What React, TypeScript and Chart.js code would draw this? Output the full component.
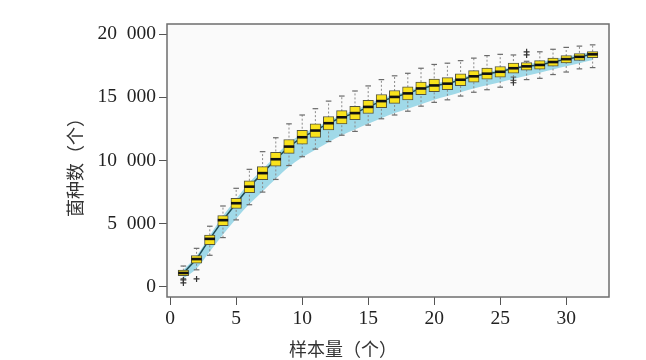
import { useEffect, useRef } from 'react';
import { Chart, registerables } from 'chart.js';

Chart.register(...registerables);

// ---- data ----
const sampleSizes = [1, 2, 3, 4, 5, 6, 7, 8, 9, 10, 11, 12, 13, 14, 15, 16, 17, 18, 19, 20, 21, 22, 23, 24, 25, 26, 27, 28, 29, 30, 31, 32];
const medians = [1100, 2200, 3800, 5280, 6620, 7930, 9000, 10100, 11100, 11840, 12370, 12950, 13420, 13750, 14240, 14700, 15030, 15310, 15700, 15940, 16080, 16390, 16660, 16870, 17020, 17300, 17450, 17560, 17790, 18020, 18200, 18400];
const lowerQuartiles = [880, 1880, 3350, 4850, 6200, 7450, 8480, 9560, 10560, 11300, 11830, 12420, 12900, 13230, 13720, 14180, 14520, 14800, 15200, 15440, 15600, 15920, 16200, 16430, 16600, 16900, 17150, 17220, 17460, 17720, 17920, 18130];
const upperQuartiles = [1330, 2480, 4100, 5650, 7000, 8400, 9520, 10640, 11660, 12380, 12900, 13480, 13950, 14280, 14760, 15220, 15540, 15820, 16200, 16440, 16560, 16860, 17110, 17310, 17440, 17700, 17750, 17900, 18100, 18300, 18450, 18610];
const lowerWhiskers = [650, 1350, 2500, 3900, 5300, 6500, 7500, 8500, 9600, 10300, 10900, 11500, 12000, 12300, 12800, 13300, 13600, 13900, 14300, 14600, 14800, 15100, 15400, 15600, 15800, 16600, 16400, 16500, 16800, 17000, 17250, 17350];
const upperWhiskers = [1650, 3050, 4800, 6400, 7800, 9300, 10700, 11800, 12900, 13600, 14100, 14700, 15100, 15500, 15900, 16400, 16700, 16900, 17300, 17600, 17700, 17900, 18100, 18300, 18400, 18350, 17850, 18600, 18800, 18950, 19050, 19150];
const outlierSamples = [1, 1, 2, 26, 26, 27, 27];
const outlierValues = [550, 310, 630, 16350, 16150, 18350, 18600];
const bandLower = [650, 1450, 2800, 4150, 5400, 6550, 7550, 8550, 9500, 10250, 10850, 11450, 12000, 12450, 12900, 13350, 13750, 14100, 14450, 14800, 15100, 15400, 15700, 15950, 16200, 16450, 16700, 16950, 17200, 17450, 17700, 17950];
const bandUpper = [1350, 2450, 4050, 5600, 6950, 8250, 9300, 10400, 11400, 12100, 12600, 13150, 13600, 14000, 14450, 14900, 15200, 15500, 15850, 16100, 16300, 16550, 16800, 17000, 17200, 17400, 17600, 17800, 18000, 18200, 18400, 18600];
const xTickValues = [0, 5, 10, 15, 20, 25, 30];
const yTickValues = [0, 5000, 10000, 15000, 20000];
const xAxisTitle = '样本量（个）';
const yAxisTitle = '菌种数（个）';

const formatThousands = (v: number) => String(v).replace(/\B(?=(\d{3})+(?!\d))/g, '\u2002');

const framePlugin = {
  id: 'frameAndTitles',
  beforeDraw(chart: any) {
    const { ctx, chartArea } = chart;
    ctx.save();
    ctx.fillStyle = '#ffffff';
    ctx.fillRect(0, 0, chart.width, chart.height);
    ctx.fillStyle = '#fafafa';
    ctx.fillRect(chartArea.left, chartArea.top, chartArea.right - chartArea.left, chartArea.bottom - chartArea.top);
    ctx.restore();
  },
  afterDatasetsDraw(chart: any) {
    const { ctx, chartArea } = chart;
    ctx.save();
    ctx.strokeStyle = '#6e6e6e';
    ctx.lineWidth = 1.5;
    ctx.strokeRect(chartArea.left, chartArea.top, chartArea.right - chartArea.left, chartArea.bottom - chartArea.top);
    ctx.restore();
  },
  afterDraw(chart: any) {
    const { ctx } = chart;
    ctx.save();
    ctx.fillStyle = '#333333';
    ctx.font = '18px "Noto Sans CJK SC", sans-serif';
    ctx.textAlign = 'center';
    ctx.textBaseline = 'middle';
    ctx.fillText(xAxisTitle, 343, 349);
    ctx.translate(75, 163);
    ctx.rotate(-Math.PI / 2);
    ctx.fillText(yAxisTitle, 0, 0);
    ctx.restore();
  },
};

export default function App() {
  const canvasRef = useRef<HTMLCanvasElement | null>(null);

  useEffect(() => {
    const canvas = canvasRef.current;
    if (!canvas) return;

    const whiskerPoints: any[] = [];
    const capPoints: any[] = [];
    sampleSizes.forEach((s, i) => {
      whiskerPoints.push({ x: s, y: lowerWhiskers[i] }, { x: s, y: upperWhiskers[i] }, { x: s, y: null });
      capPoints.push({ x: s, y: lowerWhiskers[i] }, { x: s, y: upperWhiskers[i] });
    });

    const tickFont = { family: '"Liberation Serif", "Times New Roman", serif', size: 19.5 };

    const chart = new Chart(canvas, {
      type: 'bar',
      data: {
        datasets: [
          {
            type: 'line',
            label: 'band-lower',
            data: sampleSizes.map((s, i) => ({ x: s, y: bandLower[i] })),
            borderWidth: 0,
            pointRadius: 0,
            fill: false,
            cubicInterpolationMode: 'monotone',
            order: 10,
          },
          {
            type: 'line',
            label: 'band-upper',
            data: sampleSizes.map((s, i) => ({ x: s, y: bandUpper[i] })),
            borderWidth: 0,
            pointRadius: 0,
            fill: '-1',
            backgroundColor: '#a0d9e8',
            cubicInterpolationMode: 'monotone',
            order: 9,
          },
          {
            type: 'line',
            label: 'curve',
            data: sampleSizes.map((s, i) => ({ x: s, y: medians[i] })),
            borderColor: '#1d4a55',
            borderWidth: 1.5,
            pointRadius: 0,
            fill: false,
            order: 8,
          },
          {
            type: 'line',
            label: 'whiskers',
            data: whiskerPoints,
            borderColor: '#8a8a8a',
            borderWidth: 1,
            borderDash: [2, 2],
            pointRadius: 0,
            spanGaps: false,
            fill: false,
            order: 7,
          },
          {
            type: 'scatter',
            label: 'caps',
            data: capPoints,
            pointStyle: 'line',
            pointRadius: 2.8,
            pointBorderWidth: 1.2,
            pointBorderColor: '#6a6a6a',
            order: 6,
          },
          {
            type: 'bar',
            label: 'boxes',
            data: sampleSizes.map((s, i) => ({ x: s, y: [lowerQuartiles[i], upperQuartiles[i]] })),
            backgroundColor: '#f9e21b',
            borderColor: '#56563e',
            borderWidth: 1,
            borderSkipped: false,
            barThickness: 10.5,
            order: 3,
          },
          {
            type: 'scatter',
            label: 'medians',
            data: sampleSizes.map((s, i) => ({ x: s, y: medians[i] })),
            pointStyle: 'line',
            pointRadius: 5.2,
            pointBorderWidth: 2.6,
            pointBorderColor: '#111111',
            order: 2,
          },
          {
            type: 'scatter',
            label: 'outliers',
            data: outlierSamples.map((s, i) => ({ x: s, y: outlierValues[i] })),
            pointStyle: 'cross',
            pointRadius: 3,
            pointBorderWidth: 1.2,
            pointBorderColor: '#333333',
            order: 1,
          },
        ] as any,
      },
      options: {
        animation: false,
        responsive: false,
        events: [],
        layout: { padding: { left: 0, right: 37, top: 24, bottom: 0 } },
        plugins: { legend: { display: false }, tooltip: { enabled: false } },
        scales: {
          x: {
            type: 'linear',
            min: -0.24,
            max: 33.24,
            offset: false,
            afterFit: (scale: any) => { scale.height = 63; },
            afterBuildTicks: (scale: any) => { scale.ticks = xTickValues.map((v) => ({ value: v })); },
            grid: { display: true, offset: false, drawOnChartArea: false, drawTicks: true, tickLength: 8, tickColor: '#555555', lineWidth: 1 },
            border: { display: false },
            ticks: { font: tickFont, color: '#222222', padding: 2, maxRotation: 0, autoSkip: false, callback: (v: any) => String(v) },
          },
          y: {
            type: 'linear',
            min: -800,
            max: 20800,
            afterFit: (scale: any) => { scale.width = 167; },
            afterBuildTicks: (scale: any) => { scale.ticks = yTickValues.map((v) => ({ value: v })); },
            grid: { display: true, drawOnChartArea: false, drawTicks: true, tickLength: 8, tickColor: '#555555', lineWidth: 1 },
            border: { display: false },
            ticks: { font: tickFont, color: '#222222', padding: 3, autoSkip: false, callback: (v: any) => formatThousands(Number(v)) },
          },
        },
      } as any,
      plugins: [framePlugin],
    });

    return () => chart.destroy();
  }, []);

  return (
    <div style={{ position: 'fixed', left: 0, top: 0, width: 646, height: 360, background: '#ffffff' }}>
      <canvas ref={canvasRef} width={646} height={360} style={{ display: 'block', width: 646, height: 360 }} />
    </div>
  );
}
